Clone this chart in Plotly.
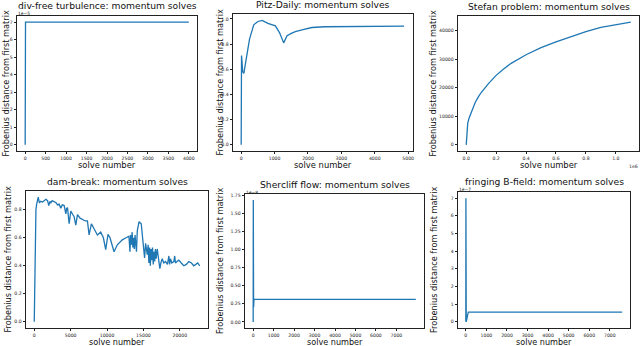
import plotly.graph_objects as go

# ---------------- data ----------------
divfree_x = [0, 8, 4000]
divfree_y = [0.0, 7.0e-5, 7.0e-5]

pitz_x = [0, 10, 25, 45, 80, 150, 250, 376, 500, 627, 800, 1024, 1150, 1272, 1320, 1373,
          1500, 1621, 1850, 2119, 2500, 3000, 3500, 4000, 4500, 4880]
pitz_y = [0.0, 0.71, 0.66, 0.58, 0.567, 0.68, 0.84, 0.954, 0.98, 0.989, 0.965, 0.945, 0.89,
          0.81, 0.84, 0.867, 0.885, 0.90, 0.915, 0.932, 0.938, 0.94, 0.942, 0.943, 0.943, 0.943]

stefan_x = [0, 2e3, 5e3, 1e4, 2e4, 4e4, 6e4, 8e4, 1e5, 1.5e5, 2e5, 2.5e5, 3e5, 4e5, 5e5,
            6e5, 7e5, 8e5, 9e5, 1.0e6, 1.1e6]
stefan_y = [0, 3000, 5500, 7500, 9500, 12500, 14800, 16700, 18300, 21500, 24300, 26500,
            28500, 31500, 34000, 36000, 37900, 39600, 41100, 42100, 42900]

dam_x = [0, 60, 150, 230, 330, 457, 550, 700, 900, 1140, 1400, 1600, 1826, 2000, 2150, 2283,
         2450, 2740, 3000, 3200, 3425, 3650, 3850, 4110, 4340, 4450, 4566, 4794, 5020, 5250,
         5480, 5707, 5936, 6300, 6620, 7000, 7306, 7534, 7853, 8220, 8450, 8675, 9130, 9500,
         9817, 10136, 10410, 10700, 10960, 11415, 12100, 12600, 13013, 13150, 13250, 13350,
         13450, 13550, 13650, 13750, 13850, 13950, 14050, 14155, 14400, 14700, 14850, 14976,
         15160, 15300, 15525, 15650, 15750, 15850, 15950, 16050, 16150, 16250, 16350, 16450,
         16550, 16650, 16750, 16900, 17100, 17260, 17400, 17580, 17800, 18035, 18300, 18500,
         18600, 18720, 18900, 19180, 19300, 19400, 19600, 19860, 20200, 20550, 20900, 21230,
         21600, 21915, 22200, 22460, 22740]
dam_y = [0.0, 0.35, 0.72, 0.80, 0.84, 0.865, 0.89, 0.85, 0.86, 0.855, 0.87, 0.875, 0.865,
         0.83, 0.86, 0.85, 0.865, 0.86, 0.85, 0.835, 0.84, 0.81, 0.835, 0.83, 0.77, 0.81,
         0.815, 0.70, 0.79, 0.77, 0.75, 0.69, 0.765, 0.74, 0.73, 0.72, 0.72, 0.62, 0.70,
         0.66, 0.64, 0.62, 0.64, 0.60, 0.515, 0.625, 0.60, 0.55, 0.50, 0.55, 0.585, 0.60,
         0.61, 0.50, 0.62, 0.55, 0.64, 0.53, 0.60, 0.52, 0.62, 0.56, 0.50, 0.65, 0.715,
         0.70, 0.62, 0.55, 0.455, 0.56, 0.48, 0.55, 0.42, 0.53, 0.40, 0.52, 0.44, 0.53,
         0.41, 0.50, 0.43, 0.52, 0.45, 0.52, 0.44, 0.38, 0.42, 0.45, 0.42, 0.43, 0.41,
         0.47, 0.41, 0.45, 0.42, 0.43, 0.47, 0.42, 0.43, 0.44, 0.42, 0.40, 0.41, 0.43,
         0.42, 0.40, 0.41, 0.42, 0.40]

sherc_x = [0, 5, 12, 20, 40, 60, 7950]
sherc_y = [0.0, 1.68e-8, 0.05e-8, 0.2e-8, 0.31e-8, 0.31e-8, 0.31e-8]

fring_x = [0, 5, 20, 120, 7600]
fring_y = [0.0, 7.0e-7, 0.0, 0.55e-7, 0.55e-7]

titles = ["div-free turbulence: momentum solves", "Pitz-Daily: momentum solves",
          "Stefan problem: momentum solves", "dam-break: momentum solves",
          "Shercliff flow: momentum solves", "fringing B-field: momentum solves"]
xlabel = "solve number"
ylabel = "Frobenius distance from first matrix"

W, H = 640, 346
LINE = "#1f77b4"
FONT = "DejaVu Sans"

# panel frames in pixels: (left, right, top, bottom)
frames = [(17, 197, 16, 151), (233, 413, 14, 151), (458, 639, 16, 151),
          (26, 208, 191, 328), (245, 424, 194, 328), (458, 630, 192, 328)]

panels = [
    (divfree_x, divfree_y, 1, 1e-5, [-200, 4200], [-0.35, 7.35],
     list(range(0, 4001, 500)), list(range(0, 8)), "1e\u22125", "tl"),
    (pitz_x, pitz_y, 1, 1, [-245, 5145], [-0.0495, 1.0395],
     list(range(0, 5001, 1000)), [0, 0.2, 0.4, 0.6, 0.8, 1.0], None, None),
    (stefan_x, stefan_y, 1e6, 1, [-0.055, 1.155], [-2145, 45045],
     [0, 0.2, 0.4, 0.6, 0.8, 1.0], [0, 10000, 20000, 30000, 40000], "1e6", "br"),
    (dam_x, dam_y, 1, 1, [-1135, 23875], [-0.0445, 0.934],
     [0, 5000, 10000, 15000, 20000], [0, 0.2, 0.4, 0.6, 0.8], None, None),
    (sherc_x, sherc_y, 1, 1e-8, [-400, 8350], [-0.084, 1.764],
     list(range(0, 7001, 1000)), [0, 0.25, 0.5, 0.75, 1.0, 1.25, 1.5, 1.75], "1e\u22128", "tl"),
    (fring_x, fring_y, 1, 1e-7, [-380, 7980], [-0.35, 7.35],
     list(range(0, 7001, 1000)), list(range(0, 8)), "1e\u22127", "tl"),
]

ytick_fmt = [
    lambda v: f"{v:d}",
    lambda v: f"{v:.1f}",
    lambda v: f"{v:d}",
    lambda v: f"{v:.1f}",
    lambda v: f"{v:.2f}",
    lambda v: f"{v:d}",
]
xtick_fmt = [
    lambda v: f"{v:d}", lambda v: f"{v:d}", lambda v: f"{v:.1f}",
    lambda v: f"{v:d}", lambda v: f"{v:d}", lambda v: f"{v:d}",
]
title_shift = [4, 3, 3, 3, 3, 4]

fig = go.Figure()
annotations = []
layout = {}
for i, (fr, pn) in enumerate(zip(frames, panels)):
    l, r, t, b = fr
    xs, ys, xsc, ysc, xr, yr, xt, yt, off, offpos = pn
    n = "" if i == 0 else str(i + 1)
    xd = [l / W, r / W]
    yd = [(H - b) / H, (H - t) / H]
    fig.add_trace(go.Scatter(x=[v / xsc for v in xs], y=[v / ysc for v in ys], mode="lines",
                             line=dict(color=LINE, width=1.3), xaxis="x" + n, yaxis="y" + n,
                             showlegend=False, hoverinfo="skip"))
    common = dict(showline=True, mirror=True, linecolor="#222", linewidth=0.8,
                  showgrid=False, zeroline=False, ticks="outside", ticklen=2.5,
                  tickwidth=0.6, tickcolor="#222",
                  tickfont=dict(family=FONT, size=4.6, color="#222"))
    layout["xaxis" + n] = dict(domain=xd, range=xr, anchor="y" + n, tickmode="array",
                               tickvals=xt, ticktext=[xtick_fmt[i](v) for v in xt], **common)
    layout["yaxis" + n] = dict(domain=yd, range=yr, anchor="x" + n, tickmode="array",
                               tickvals=yt, ticktext=[ytick_fmt[i](v) for v in yt], **common)
    cx = (l + r) / 2 / W
    annotations.append(dict(text=titles[i], x=cx, y=(H - t) / H, xref="paper", yref="paper",
                            xanchor="center", yanchor="bottom", yshift=title_shift[i],
                            borderpad=0, showarrow=False,
                            font=dict(family=FONT, size=9.2, color="#111")))
    annotations.append(dict(text=xlabel, x=cx, y=(H - b) / H, xref="paper", yref="paper",
                            xanchor="center", yanchor="top", yshift=-8, borderpad=0,
                            showarrow=False,
                            font=dict(family=FONT, size=8.4 if i < 3 else 8.1, color="#111")))
    ylx = [5, 219, 432, 7, 220, 434][i]
    annotations.append(dict(text=ylabel, x=ylx / W, y=(H - (t + b) / 2) / H, xref="paper",
                            yref="paper", xanchor="center", yanchor="middle", textangle=-90,
                            borderpad=0, showarrow=False,
                            font=dict(family=FONT, size=8.2, color="#111")))
    if off:
        if offpos == "tl":
            annotations.append(dict(text=off, x=l / W, y=(H - t) / H, xref="paper", yref="paper",
                                    xanchor="left", yanchor="bottom", yshift=-1.5, borderpad=0,
                                    showarrow=False,
                                    font=dict(family=FONT, size=4.4, color="#222")))
        else:
            annotations.append(dict(text=off, x=r / W, y=(H - b) / H, xref="paper", yref="paper",
                                    xanchor="right", yanchor="top", yshift=-12, borderpad=0,
                                    showarrow=False,
                                    font=dict(family=FONT, size=4.6, color="#222")))

fig.update_layout(width=W, height=H, margin=dict(l=0, r=0, t=0, b=0),
                  paper_bgcolor="white", plot_bgcolor="white",
                  annotations=annotations, **layout)
fig.write_html("out.html", config={"displayModeBar": False},
               post_script="document.body.style.margin='0px';")
